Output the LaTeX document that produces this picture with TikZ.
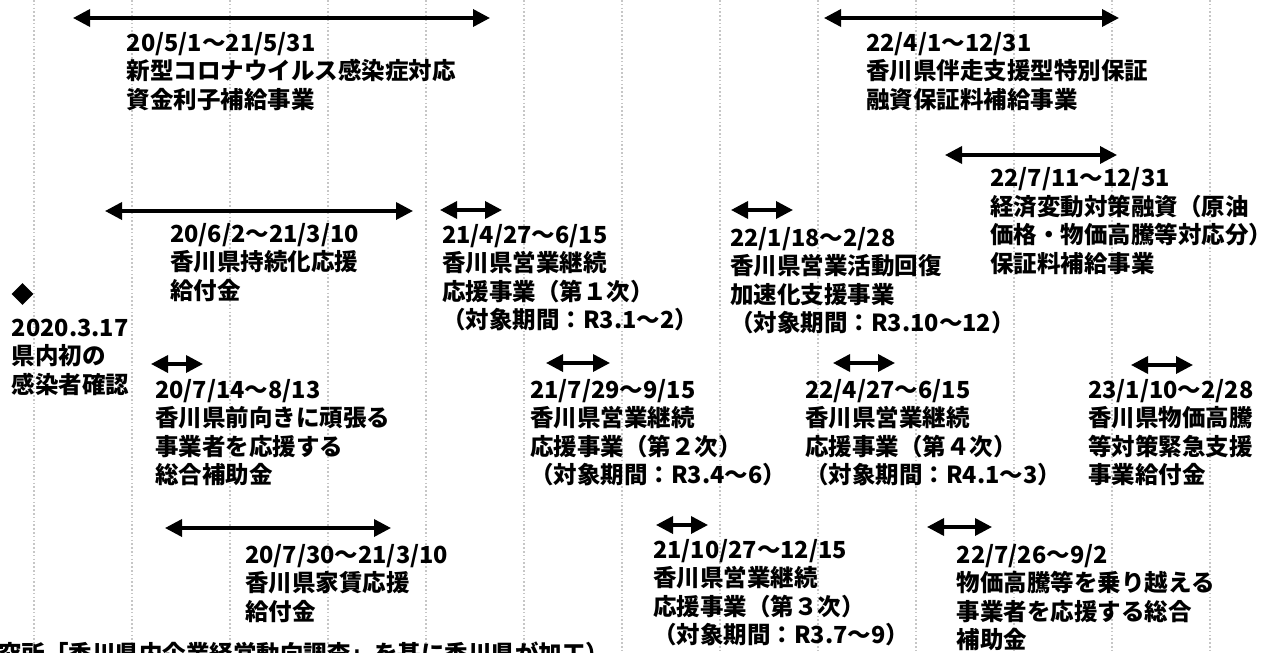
\documentclass[tikz,border=0pt]{standalone}
\usepackage{fontspec}
\setmainfont{Noto Sans CJK JP}
\usetikzlibrary{arrows.meta,shapes.geometric}
\newcommand\blk[1]{\vtop{\baselineskip=28.5pt\lineskiplimit=-30pt\lineskip=0pt\halign{##\hfil\cr#1\crcr}}}
\tikzset{
  gridline/.style={draw=gray!45, line width=1.6pt, dash pattern=on 1.6pt off 2.2pt},
  span/.style={line width=3.5pt, {Triangle[length=17pt,width=17pt]}-{Triangle[length=17pt,width=17pt]}},
  lbl/.style={anchor=base west, inner sep=0pt, font=\fontsize{23.5}{28.5}\selectfont\bfseries},
}
\begin{document}
\begin{tikzpicture}[x=1pt,y=-1pt]
\useasboundingbox (0,0) rectangle (1272,653);
\foreach \k in {0,...,12} \draw[gridline] (34+98*\k,0) -- (34+98*\k,653);

% arrows
\coordinate (a1l) at (73,18);   \coordinate (a1r) at (490,18);
\coordinate (a2l) at (824,18);  \coordinate (a2r) at (1119,18);
\coordinate (a3l) at (945,155); \coordinate (a3r) at (1117,155);
\coordinate (a4l) at (105,211); \coordinate (a4r) at (413,211);
\coordinate (a5l) at (440,210); \coordinate (a5r) at (502,210);
\coordinate (a6l) at (731,210); \coordinate (a6r) at (793,210);
\coordinate (a8l) at (151,364); \coordinate (a8r) at (203,364);
\coordinate (a9l) at (546,363); \coordinate (a9r) at (610,363);
\coordinate (a10l) at (833,363); \coordinate (a10r) at (895,363);
\coordinate (a11l) at (1131,365); \coordinate (a11r) at (1193,365);
\coordinate (a12l) at (165,528); \coordinate (a12r) at (391,528);
\coordinate (a13l) at (656,525); \coordinate (a13r) at (708,525);
\coordinate (a14l) at (927,527); \coordinate (a14r) at (992,527);
\foreach \n in {1,2,3,4,5,6,8,9,10,11,12,13,14} \draw[span] (a\n l) -- (a\n r);

% diamond marker
\node[diamond, fill=black, inner sep=0pt, minimum width=22pt, minimum height=22pt] (onset) at (22.5,294) {};

% labels
\node[lbl] (b1) at (126.7,51) {\blk{20/5/1〜21/5/31\cr 新型コロナウイルス感染症対応\cr 資金利子補給事業}};
\node[lbl] (b2) at (866,51) {\blk{22/4/1〜12/31\cr 香川県伴走支援型特別保証\cr 融資保証料補給事業}};
\node[lbl] (b3) at (990,186.5) {\blk{22/7/11〜12/31\cr 経済変動対策融資（原油\cr 価格・物価高騰等対応分）\cr 保証料補給事業}};
\node[lbl] (b4) at (170,242) {\blk{20/6/2〜21/3/10\cr 香川県持続化応援\cr 給付金}};
\node[lbl] (b5) at (442,243) {\blk{21/4/27〜6/15\cr 香川県営業継続\cr 応援事業（第１次）\cr （対象期間：R3.1〜2）}};
\node[lbl] (b6) at (730,246) {\blk{22/1/18〜2/28\cr 香川県営業活動回復\cr 加速化支援事業\cr （対象期間：R3.10〜12）}};
\node[lbl] (b7) at (11.7,336) {\blk{2020.3.17\cr 県内初の\cr 感染者確認}};
\node[lbl] (b8) at (155,398) {\blk{20/7/14〜8/13\cr 香川県前向きに頑張る\cr 事業者を応援する\cr 総合補助金}};
\node[lbl] (b9) at (530,398) {\blk{21/7/29〜9/15\cr 香川県営業継続\cr 応援事業（第２次）\cr （対象期間：R3.4〜6）}};
\node[lbl] (b10) at (805,398) {\blk{22/4/27〜6/15\cr 香川県営業継続\cr 応援事業（第４次）\cr （対象期間：R4.1〜3）}};
\node[lbl] (b11) at (1088,398) {\blk{23/1/10〜2/28\cr 香川県物価高騰\cr 等対策緊急支援\cr 事業給付金}};
\node[lbl] (b12) at (245,563) {\blk{20/7/30〜21/3/10\cr 香川県家賃応援\cr 給付金}};
\node[lbl] (b13) at (653,558) {\blk{21/10/27〜12/15\cr 香川県営業継続\cr 応援事業（第３次）\cr （対象期間：R3.7〜9）}};
\node[lbl] (b14) at (956.7,563) {\blk{22/7/26〜9/2\cr 物価高騰等を乗り越える\cr 事業者を応援する総合\cr 補助金}};
\node[lbl] (src) at (-2,662) {究所「香川県内企業経営動向調査」を基に香川県が加工）};
\end{tikzpicture}
\end{document}
